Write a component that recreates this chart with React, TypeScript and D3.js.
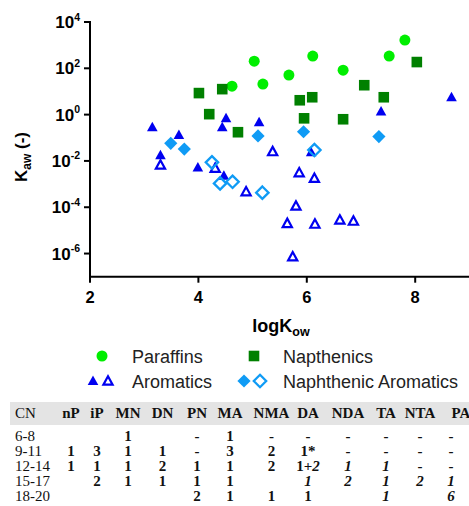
import React from 'react';
import * as d3 from 'd3';

// ---- Data (logKow, log10 Kaw) ----
const paraffinLogKow = [4.62, 5.03, 5.19, 5.67, 6.11, 6.67, 7.52, 7.81];
const paraffinLogKaw = [1.23, 2.31, 1.32, 1.71, 2.53, 1.92, 2.53, 3.22];

const napthenicLogKow = [4.01, 4.44, 4.2, 4.73, 5.87, 6.1, 5.95, 6.67, 7.06, 7.42, 8.03];
const napthenicLogKaw = [0.93, 1.1, 0.02, -0.76, 0.62, 0.75, -0.16, -0.2, 1.27, 0.75, 2.27];

const aromaticFilledLogKow = [3.15, 3.64, 4.51, 4.44, 3.3, 3.99, 4.47, 5.12, 6.08, 7.37, 8.67];
const aromaticFilledLogKaw = [-0.55, -0.88, -0.16, -0.55, -1.75, -2.28, -2.64, -0.33, -1.63, 0.13, 0.75];

const aromaticOpenLogKow = [3.3, 4.31, 5.37, 4.88, 5.86, 6.14, 5.8, 5.64, 6.15, 6.61, 6.86, 5.74];
const aromaticOpenLogKaw = [-2.18, -2.32, -1.6, -3.33, -2.51, -2.75, -3.95, -4.7, -4.73, -4.55, -4.6, -6.14];

const naphAromFilledLogKow = [3.49, 3.74, 5.1, 5.94, 7.33];
const naphAromFilledLogKaw = [-1.24, -1.49, -0.92, -0.74, -0.95];

const naphAromOpenLogKow = [4.25, 4.4, 4.63, 5.18, 6.14];
const naphAromOpenLogKaw = [-2.06, -2.97, -2.9, -3.37, -1.53];

const xTicks = [2, 4, 6, 8];
const yTickExps = [4, 2, 0, -2, -4, -6];

// ---- Table ----
const tableHeaders = ['CN', 'nP', 'iP', 'MN', 'DN', 'PN', 'MA', 'NMA', 'DA', 'NDA', 'TA', 'NTA', 'PA'];
const tableRows = [
  ['6-8', '', '', '1', '', '-', '1', '-', '-', '-', '-', '-', '-'],
  ['9-11', '1', '3', '1', '1', '-', '3', '2', '1*', '-', '-', '-', '-'],
  ['12-14', '1', '1', '1', '2', '1', '1', '2', '1+2', 'i1', 'i1', '-', '-'],
  ['15-17', '', '2', '1', '1', '1', '1', '', 'i1', 'i2', 'i1', 'i2', 'i1'],
  ['18-20', '', '', '', '', '2', '1', '1', '1', '', 'i1', '', 'i6'],
];

const COLORS = {
  paraffin: '#00ee00',
  napthenic: '#008000',
  aromatic: '#0000f0',
  naphArom: '#0f9bf5',
};

const W = 469;
const H = 506;

const triPath = (hw: number, top: number, bot: number) => `M0,${-top}L${hw},${bot}L${-hw},${bot}Z`;
const diaPath = (r: number) => `M0,${-r}L${r},0L0,${r}L${-r},0Z`;

function Circle({ cx, cy }: { cx: number; cy: number }) {
  return <circle cx={cx} cy={cy} r={5.5} fill={COLORS.paraffin} />;
}
function Square({ cx, cy }: { cx: number; cy: number }) {
  return <rect x={cx - 5.3} y={cy - 5.3} width={10.6} height={10.6} fill={COLORS.napthenic} />;
}
function TriFilled({ cx, cy }: { cx: number; cy: number }) {
  return <path transform={`translate(${cx},${cy})`} d={triPath(5.3, 5.5, 4)} fill={COLORS.aromatic} />;
}
function TriOpen({ cx, cy }: { cx: number; cy: number }) {
  return (
    <path
      transform={`translate(${cx},${cy})`}
      d={triPath(4.6, 4.8, 3.6)}
      fill="none"
      stroke={COLORS.aromatic}
      strokeWidth={2.2}
      strokeLinejoin="miter"
    />
  );
}
function DiaFilled({ cx, cy }: { cx: number; cy: number }) {
  return <path transform={`translate(${cx},${cy})`} d={diaPath(6.6)} fill={COLORS.naphArom} />;
}
function DiaOpen({ cx, cy }: { cx: number; cy: number }) {
  return (
    <path
      transform={`translate(${cx},${cy})`}
      d={diaPath(6.2)}
      fill="none"
      stroke={COLORS.naphArom}
      strokeWidth={2.3}
    />
  );
}

export default function App() {
  const x = d3.scaleLinear().domain([2, 9]).range([90, 469.4]);
  const y = d3.scaleLinear().domain([-7, 4]).range([276.7, 22]);
  const x0 = x(2);
  const y0 = y(-7);

  const sans = 'Arial, "Liberation Sans", Helvetica, sans-serif';
  const serif = '"Times New Roman", "Liberation Serif", Times, serif';

  const colCenters = [18, 71, 97, 128, 162.5, 197, 230, 271.5, 308, 348, 386, 420, 451];
  const headerCenters = [18, 71, 97, 128, 162.5, 197, 230, 271.5, 308, 348, 386, 420, 461];

  const renderCell = (v: string) => {
    if (v.startsWith('i')) return <tspan fontStyle="italic">{v.slice(1)}</tspan>;
    if (v === '1+2')
      return (
        <>
          <tspan>1+</tspan>
          <tspan fontStyle="italic">2</tspan>
        </>
      );
    return v;
  };

  return (
    <svg width={W} height={H} style={{ display: 'block', position: 'absolute', left: 0, top: 0 }}>
      <rect x={0} y={0} width={W} height={H} fill="#fff" />

      {/* Axes */}
      <g stroke="#000" strokeWidth={2} fill="none">
        <line x1={x0} y1={y(4) - 1} x2={x0} y2={y0 + 1} />
        <line x1={x0 - 1} y1={y0} x2={W} y2={y0} />
        {yTickExps.map((e) => (
          <line key={'yt' + e} x1={x0 - 6} x2={x0} y1={y(e)} y2={y(e)} />
        ))}
        {xTicks.map((t) => (
          <line key={'xt' + t} x1={x(t)} x2={x(t)} y1={y0} y2={y0 + 6} />
        ))}
      </g>

      {/* Y tick labels */}
      <g fontFamily={sans} fontWeight="bold" fill="#000">
        {yTickExps.map((e) => (
          <text key={'yl' + e} x={80} y={y(e) + 6} textAnchor="end" fontSize={17}>
            10
            <tspan fontSize={10.5} dy={-7.5}>
              {e < 0 ? '-' + Math.abs(e) : String(e)}
            </tspan>
          </text>
        ))}
        {xTicks.map((t) => (
          <text key={'xl' + t} x={x(t)} y={y0 + 26} textAnchor="middle" fontSize={16.5}>
            {t}
          </text>
        ))}
        <text x={281} y={332} textAnchor="middle" fontSize={18}>
          logK
          <tspan fontSize={12.5} dy={4}>
            ow
          </tspan>
        </text>
        <text transform="translate(27,157) rotate(-90)" textAnchor="middle" fontSize={17}>
          K
          <tspan fontSize={12} dy={4}>
            aw
          </tspan>
          <tspan dy={-4}> (-)</tspan>
        </text>
      </g>

      {/* Marks */}
      <g>
        {paraffinLogKow.map((v, i) => (
          <Circle key={'p' + i} cx={x(v)} cy={y(paraffinLogKaw[i])} />
        ))}
        {napthenicLogKow.map((v, i) => (
          <Square key={'n' + i} cx={x(v)} cy={y(napthenicLogKaw[i])} />
        ))}
        {aromaticFilledLogKow.map((v, i) => (
          <TriFilled key={'af' + i} cx={x(v)} cy={y(aromaticFilledLogKaw[i])} />
        ))}
        {aromaticOpenLogKow.map((v, i) => (
          <TriOpen key={'ao' + i} cx={x(v)} cy={y(aromaticOpenLogKaw[i])} />
        ))}
        {naphAromFilledLogKow.map((v, i) => (
          <DiaFilled key={'df' + i} cx={x(v)} cy={y(naphAromFilledLogKaw[i])} />
        ))}
        {naphAromOpenLogKow.map((v, i) => (
          <DiaOpen key={'do' + i} cx={x(v)} cy={y(naphAromOpenLogKaw[i])} />
        ))}
      </g>

      {/* Legend */}
      <g fontFamily={sans} fontSize={18} fill="#222">
        <Circle cx={102} cy={356} />
        <text x={132} y={362.5}>Paraffins</text>
        <Square cx={254} cy={356} />
        <text x={283} y={362.5}>Napthenics</text>
        <TriFilled cx={93} cy={381} />
        <TriOpen cx={108} cy={381} />
        <text x={132} y={387.5}>Aromatics</text>
        <DiaFilled cx={244} cy={381} />
        <DiaOpen cx={260} cy={381} />
        <text x={283} y={387.5}>Naphthenic Aromatics</text>
      </g>

      {/* Table */}
      <rect x={10} y={402} width={W - 10} height={23} fill="#e4e4e4" />
      <g fontFamily={serif} fontSize={15} fill="#111">
        {tableHeaders.map((h, i) => (
          <text
            key={'h' + i}
            x={i === 0 ? 15 : headerCenters[i]}
            y={418}
            textAnchor={i === 0 ? 'start' : 'middle'}
            fontWeight={i === 0 ? 'normal' : 'bold'}
          >
            {h}
          </text>
        ))}
        {tableRows.map((row, r) =>
          row.map((cell, c) => (
            <text
              key={'c' + r + '-' + c}
              x={c === 0 ? 15 : colCenters[c]}
              y={440.5 + r * 15.2}
              textAnchor={c === 0 ? 'start' : 'middle'}
              fontWeight={c === 0 ? 'normal' : 'bold'}
            >
              {renderCell(cell)}
            </text>
          ))
        )}
      </g>
    </svg>
  );
}
